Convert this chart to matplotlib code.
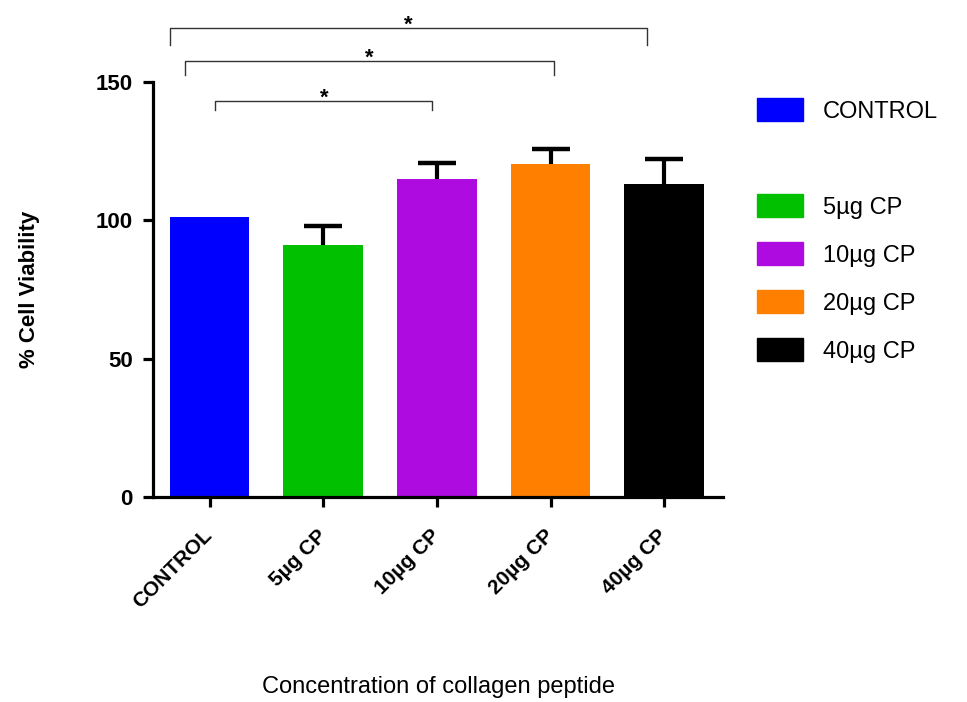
import matplotlib
matplotlib.use('Agg')
import matplotlib.pyplot as plt
from matplotlib.patches import Patch

plt.rcParams['font.family'] = ['Liberation Sans', 'DejaVu Sans']

groups = ['CONTROL', '5µg CP', '10µg CP', '20µg CP', '40µg CP']
viability = [101.1, 91.2, 114.8, 120.3, 113.0]
sem = [0.0, 6.8, 5.8, 5.7, 9.3]
colors = ['#0000FF', '#00C000', '#AE0BE0', '#FF8000', '#000000']

# significance brackets: (x start, x end, bracket top, leg bottom)
brackets = [(0.05, 1.96, 143.2, 139.8),
            (-0.22, 3.03, 157.5, 152.4),
            (-0.35, 3.85, 169.4, 163.6)]

fig = plt.figure(figsize=(9.67, 7.02), dpi=100)
ax = fig.add_axes([0.158, 0.292, 0.59, 0.591])

x = list(range(len(groups)))
ax.bar(x, viability, width=0.7, color=colors, zorder=2)

# error bars only where there is an error (upper side only)
idx = [i for i in x if sem[i] > 0]
eb = ax.errorbar([x[i] for i in idx], [viability[i] for i in idx],
                 yerr=[[0] * len(idx), [sem[i] for i in idx]], fmt='none', ecolor='black',
                 elinewidth=3, capsize=13.5, capthick=3.2, zorder=3)
eb[1][0].set_visible(False)  # hide lower caps

for x0, x1, top, low in brackets:
    ax.plot([x0, x0, x1, x1], [low, top, top, low], color='#333333', lw=1, clip_on=False)
    ax.text((x0 + x1) / 2, top - 0.9, '*', ha='center', va='baseline', fontsize=16,
            fontweight='bold', clip_on=False)

ax.set_xlim(-0.5, 4.52)
ax.set_ylim(0, 150)
ax.set_yticks([0, 50, 100, 150])
ax.set_xticks(x)
ax.set_xticklabels(groups, rotation=45, ha='right', va='center', rotation_mode='anchor',
                   fontsize=15, fontweight='bold')
for lbl in ax.get_yticklabels():
    lbl.set_fontsize(16)
    lbl.set_fontweight('bold')

for s in ['top', 'right']:
    ax.spines[s].set_visible(False)
for s in ['left', 'bottom']:
    ax.spines[s].set_linewidth(2.3)
ax.tick_params(axis='both', length=7.5, width=2.3)
ax.tick_params(axis='y', pad=7)
ax.tick_params(axis='x', pad=18)

ax.set_ylabel('% Cell Viability', fontsize=16, fontweight='bold', labelpad=40)
ax.set_xlabel('Concentration of collagen peptide', fontsize=17, labelpad=46)

handles = [Patch(color=colors[0]), Patch(fill=False, edgecolor='none')]
labels = [groups[0], '']
for c, g in zip(colors[1:], groups[1:]):
    handles.append(Patch(color=c))
    labels.append(g)
fig.legend(handles, labels, loc='upper left', bbox_to_anchor=(757 / 967, 1 - 98 / 702),
           frameon=False, fontsize=17, handlelength=1.95, handleheight=1.14,
           handletextpad=0.85, labelspacing=0.99, borderpad=0, borderaxespad=0)

fig.savefig('out.png', dpi=100)
